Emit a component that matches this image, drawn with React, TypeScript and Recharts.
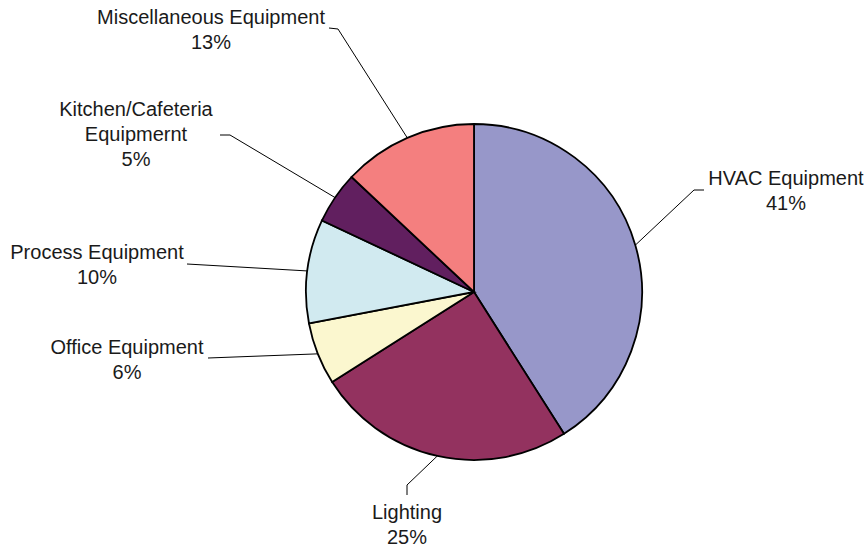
import { PieChart, Pie, Cell } from 'recharts'

// share of electricity use by end-use category, percent
const CATEGORIES = [
  'HVAC Equipment',
  'Lighting',
  'Office Equipment',
  'Process Equipment',
  'Kitchen/Cafeteria\nEquipmernt',
  'Miscellaneous Equipment',
]
const SHARES = [41, 25, 6, 10, 5, 13]
const COLORS = ['#9797c9', '#93325f', '#fbf7cf', '#d1eaf0', '#611f5f', '#f47f7f']

// label placement relative to the pie centre: text block, elbow of the leader, leader end
const LABEL_LAYOUT: Record<string, { tx: number; ty: number; ex: number; ey: number; lx: number; ly: number }> = {
  'HVAC Equipment': { tx: 312, ty: -114, ex: 220, ey: -102, lx: 230, ly: -102 },
  'Lighting': { tx: -67, ty: 220, ex: -67, ey: 193, lx: -67, ly: 203 },
  'Office Equipment': { tx: -347, ty: 55, ex: -266, ey: 66, lx: -266, ly: 66 },
  'Process Equipment': { tx: -377, ty: -40, ex: -287, ey: -28, lx: -287, ly: -28 },
  'Kitchen/Cafeteria\nEquipmernt': { tx: -338, ty: -183, ex: -244, ey: -157, lx: -254, ly: -157 },
  'Miscellaneous Equipment': { tx: -263, ty: -275, ex: -136, ey: -263, lx: -145, ly: -264 },
}

const data = CATEGORIES.map((name, i) => ({ name, value: SHARES[i] }))

const RAD = Math.PI / 180
const LINE_H = 25

const renderLabel = (props: any) => {
  const { cx, cy, midAngle, outerRadius, name, value } = props
  const lay = LABEL_LAYOUT[name]
  if (!lay) return null
  const sx = cx + outerRadius * Math.cos(-midAngle * RAD)
  const sy = cy + outerRadius * Math.sin(-midAngle * RAD)
  const lines = [...String(name).split('\n'), `${value}%`]
  return (
    <g>
      <polyline
        points={`${sx},${sy} ${cx + lay.ex},${cy + lay.ey} ${cx + lay.lx},${cy + lay.ly}`}
        fill="none"
        stroke="#000"
        strokeWidth={1}
      />
      <text
        x={cx + lay.tx}
        y={cy + lay.ty}
        textAnchor="middle"
        dominantBaseline="central"
        fill="#1a1a1a"
        fontSize={20}
        fontFamily="'Liberation Sans', Arial, sans-serif"
      >
        {lines.map((l, i) => (
          <tspan key={i} x={cx + lay.tx} y={cy + lay.ty + i * LINE_H}>{l}</tspan>
        ))}
      </text>
    </g>
  )
}

export default function App() {
  return (
    <div style={{ position: 'absolute', left: 0, top: 0, width: 867, height: 547, background: '#fff' }}>
      <PieChart width={867} height={547} margin={{ top: 0, right: 0, bottom: 0, left: 0 }}>
        <Pie
          data={data}
          dataKey="value"
          nameKey="name"
          cx={474}
          cy={292}
          outerRadius={168}
          startAngle={90}
          endAngle={-270}
          stroke="#000"
          strokeWidth={1.8}
          label={renderLabel}
          labelLine={false}
          isAnimationActive={false}
        >
          {data.map((d, i) => (
            <Cell key={d.name} fill={COLORS[i]} />
          ))}
        </Pie>
      </PieChart>
    </div>
  )
}
